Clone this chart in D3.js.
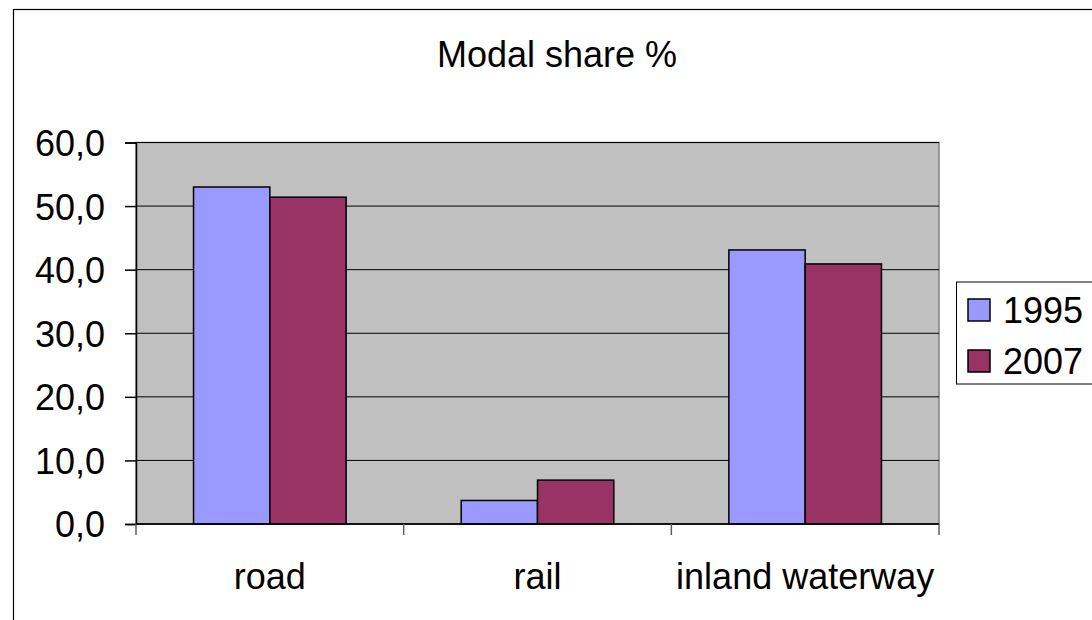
<!DOCTYPE html>
<html>
<head>
<meta charset="utf-8">
<script src="https://cdnjs.cloudflare.com/ajax/libs/d3/7.8.5/d3.min.js"></script>
<style>
  body { margin: 0; background: #fff; }
  svg text { font-family: "Liberation Sans", Arial, sans-serif; fill: #000; }
</style>
</head>
<body>
<svg></svg>
<script>
var width = 1092;
var height = 620;

var categories = ["road", "rail", "inland waterway"];
var years = ["1995", "2007"];
var values1995 = [53.0, 3.7, 43.1];
var values2007 = [51.4, 6.9, 40.9];
var yTicks = [0, 10, 20, 30, 40, 50, 60];
var colors = ["#9999ff", "#993366"];

var plot = { left: 136, right: 939, top: 142.5, bottom: 524 };
var fontSize = "36px";

var svg = d3.select("svg")
    .attr("width", width)
    .attr("height", height);

// outer chart border (runs off the right and bottom edge)
svg.append("rect")
    .attr("x", 13.5)
    .attr("y", 9.5)
    .attr("width", 1200)
    .attr("height", 700)
    .attr("fill", "#fff")
    .attr("stroke", "#000")
    .attr("stroke-width", 1.2);

svg.append("text")
    .attr("x", 557)
    .attr("y", 67)
    .style("text-anchor", "middle")
    .style("font-size", fontSize)
    .text("Modal share %");

var y = d3.scaleLinear()
    .domain([0, 60])
    .range([plot.bottom, plot.top]);

var x = d3.scaleBand()
    .domain(categories)
    .range([plot.left, plot.right]);

var x1 = d3.scaleBand()
    .domain(years)
    .range([0, x.bandwidth()])
    .paddingOuter(0.754);

// plot area
svg.append("rect")
    .attr("x", plot.left)
    .attr("y", plot.top)
    .attr("width", plot.right - plot.left)
    .attr("height", plot.bottom - plot.top)
    .attr("fill", "#c0c0c0")
    .attr("stroke", "#808080")
    .attr("stroke-width", 1.5);

svg.append("g")
    .selectAll("line")
    .data(yTicks)
    .enter()
    .append("line")
      .attr("x1", plot.left)
      .attr("x2", plot.right)
      .attr("y1", d => y(d))
      .attr("y2", d => y(d))
      .attr("stroke", "#000")
      .attr("stroke-width", 1);

var series = years.map((yr, i) => ({
  year: yr,
  values: i === 0 ? values1995 : values2007
}));

svg.append("g")
  .selectAll("g")
  .data(series)
  .enter()
  .append("g")
    .attr("fill", (d, i) => colors[i])
  .selectAll("rect")
  .data(d => d.values.map((v, j) => ({ year: d.year, cat: categories[j], value: v })))
  .enter()
  .append("rect")
    .attr("x", d => x(d.cat) + x1(d.year))
    .attr("y", d => y(d.value))
    .attr("width", x1.bandwidth())
    .attr("height", d => y(0) - y(d.value))
    .attr("stroke", "#000")
    .attr("stroke-width", 1.5);

// y axis
var yAxis = svg.append("g")
    .attr("transform", `translate(${plot.left}, 0)`)
    .call(d3.axisLeft(y)
      .tickValues(yTicks)
      .tickSize(11)
      .tickPadding(20)
      .tickFormat(d => d3.format(".1f")(d).replace(".", ",")));

yAxis.select(".domain").attr("stroke", "#000").attr("stroke-width", 1.5);
yAxis.selectAll(".tick line").attr("stroke", "#000").attr("stroke-width", 1.5);
yAxis.selectAll("text")
    .style("font-size", fontSize)
    .attr("font-family", null)
    .attr("dy", "0.36em");

// x axis
svg.append("line")
    .attr("x1", plot.left)
    .attr("x2", plot.right)
    .attr("y1", plot.bottom)
    .attr("y2", plot.bottom)
    .attr("stroke", "#000")
    .attr("stroke-width", 1.5);

var xEdges = categories.map(c => x(c)).concat([x.range()[1]]);
svg.append("g")
  .selectAll("line")
  .data(xEdges)
  .enter()
  .append("line")
    .attr("x1", d => d)
    .attr("x2", d => d)
    .attr("y1", plot.bottom)
    .attr("y2", plot.bottom + 11)
    .attr("stroke", "#606060")
    .attr("stroke-width", 1.5);

svg.append("g")
  .selectAll("text")
  .data(categories)
  .enter()
  .append("text")
    .attr("x", d => x(d) + x.bandwidth() / 2)
    .attr("y", 589)
    .style("text-anchor", "middle")
    .style("font-size", fontSize)
    .text(d => d);

// legend
var legend = svg.append("g");

legend.append("rect")
    .attr("x", 956.5)
    .attr("y", 282)
    .attr("width", 200)
    .attr("height", 102)
    .attr("fill", "#fff")
    .attr("stroke", "#000")
    .attr("stroke-width", 1);

var legendItem = legend.selectAll(".item")
    .data(years)
    .enter()
    .append("g")
      .classed("item", true)
      .attr("transform", (d, i) => `translate(968, ${299 + i * 51})`);

legendItem.append("rect")
    .attr("width", 22)
    .attr("height", 22)
    .attr("fill", (d, i) => colors[i])
    .attr("stroke", "#000")
    .attr("stroke-width", 1.5);

legendItem.append("text")
    .attr("x", 35)
    .attr("y", 24)
    .style("font-size", fontSize)
    .text(d => d);
</script>
</body>
</html>
